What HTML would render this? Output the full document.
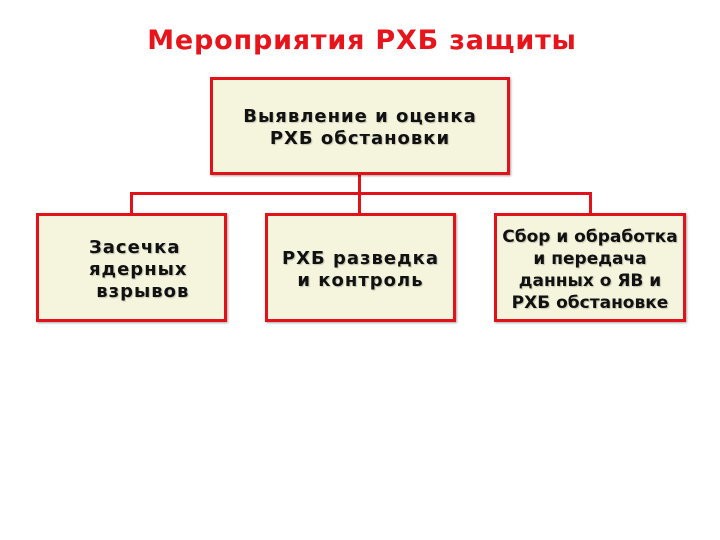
<!DOCTYPE html>
<html><head><meta charset="utf-8"><style>
body{margin:0;width:720px;height:540px;background:#fff;position:relative;overflow:hidden;font-family:"DejaVu Sans","Liberation Sans",sans-serif}
.t{position:absolute;left:0;width:724px;top:25px;text-align:center;color:#e8141c;font-weight:bold;font-size:27px;letter-spacing:0.8px}
.b{position:absolute;box-sizing:border-box;background:#f5f4dc;border:3px solid #e2121a;box-shadow:1px 1px 2px rgba(0,0,0,.35);font-weight:bold;font-size:18px;color:#111;text-align:center;line-height:22px;letter-spacing:1px;text-shadow:1px 1px 1px rgba(0,0,0,.2);white-space:nowrap}
.l{position:absolute;background:#e2121a}
</style></head><body>
<div class="t">Мероприятия РХБ защиты</div>
<div class="l" style="left:358px;top:172px;width:3px;height:43px"></div>
<div class="l" style="left:130px;top:192px;width:461px;height:3px"></div>
<div class="l" style="left:130px;top:192px;width:3px;height:23px"></div>
<div class="l" style="left:589px;top:192px;width:3px;height:23px"></div>
<div class="b" style="left:210px;top:77px;width:300px;height:98px;padding-top:26px">Выявление и оценка<br>РХБ обстановки</div>
<div class="b" style="left:36px;top:213px;width:191px;height:109px;padding-top:21px;text-align:left;padding-left:50px">Засечка<br>ядерных<br>&nbsp;взрывов</div>
<div class="b" style="left:265px;top:213px;width:191px;height:109px;padding-top:32px">РХБ разведка<br>и контроль</div>
<div class="b" style="left:494px;top:213px;width:192px;height:109px;padding-top:10px;letter-spacing:0px;font-size:17px">Сбор и обработка<br>и передача<br>данных о ЯВ и<br>РХБ обстановке</div>
</body></html>
